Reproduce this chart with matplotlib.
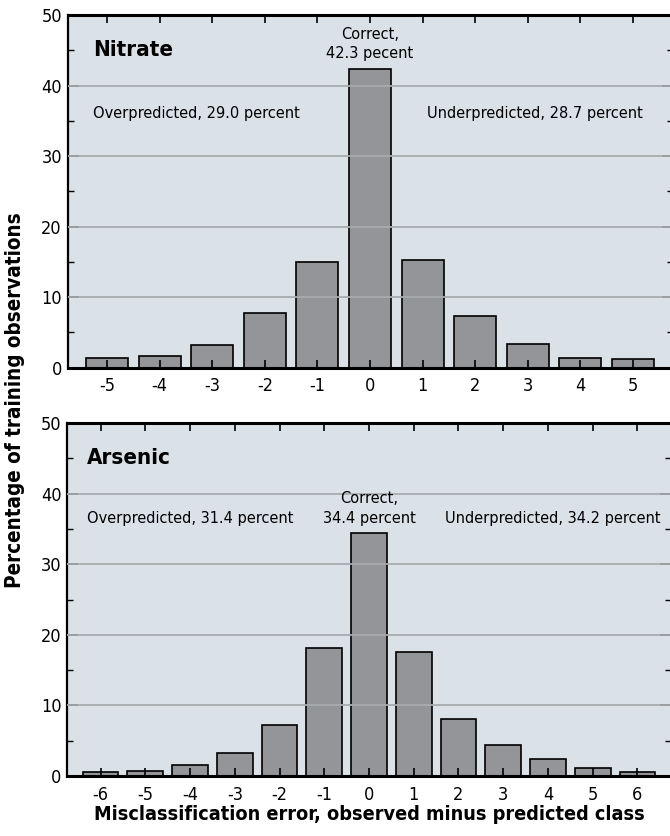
import matplotlib
matplotlib.use("Agg")
import matplotlib.pyplot as plt

# --- data ---
nitrate_err = [-5, -4, -3, -2, -1, 0, 1, 2, 3, 4, 5]
nitrate_pct = [1.4, 1.6, 3.2, 7.8, 15.0, 42.3, 15.2, 7.4, 3.4, 1.4, 1.3]
arsenic_err = [-6, -5, -4, -3, -2, -1, 0, 1, 2, 3, 4, 5, 6]
arsenic_pct = [0.6, 0.7, 1.5, 3.2, 7.2, 18.2, 34.4, 17.6, 8.1, 4.4, 2.4, 1.2, 0.5]

nitrate_txt = ("Nitrate", "Overpredicted, 29.0 percent", "Correct,", "42.3 pecent",
               "Underpredicted, 28.7 percent")
arsenic_txt = ("Arsenic", "Overpredicted, 31.4 percent", "Correct,", "34.4 percent",
               "Underpredicted, 34.2 percent")

plt.rcParams["font.family"] = ["DejaVu Sans"]
plt.rcParams["font.stretch"] = "condensed"
BG = "#dbe2e7"; BAR = "#939598"; GRID = "#a8acaf"

W, H = 670, 836
fig = plt.figure(figsize=(W/100, H/100), dpi=100)

def px_axes(x0, y_top, x1, y_bot):
    return fig.add_axes([x0/W, 1-y_bot/H, (x1-x0)/W, (y_bot-y_top)/H])

def panel(ax, err, pct, txt, xmax, left_x, over_y, corr_y, pct_y, under_x):
    ax.set_facecolor(BG)
    ax.bar(err, pct, width=0.8, color=BAR, edgecolor="black", linewidth=1.2, zorder=2)
    ax.set_xlim(-xmax, xmax); ax.set_ylim(0, 50)
    ax.set_xticks(err)
    ax.set_xticklabels([str(e) for e in err])
    ax.set_yticks([0, 10, 20, 30, 40, 50])
    ax.set_yticks([5, 15, 25, 35, 45], minor=True)
    for y in [10, 20, 30, 40]:
        ax.axhline(y, color=GRID, lw=1.3, zorder=3)
    ax.tick_params(axis="x", which="both", direction="in", top=True, bottom=True,
                   length=6, width=1.2, labelsize=13, pad=7)
    ax.tick_params(axis="y", which="major", direction="in", left=True, right=True,
                   length=8, width=1.2, labelsize=13, pad=4)
    ax.tick_params(axis="y", which="minor", direction="in", left=True, right=True,
                   length=4, width=1.0)
    ax.set_axisbelow(False)
    ax.spines["top"].set_linewidth(2.2)
    ax.spines["bottom"].set_linewidth(2.2)
    ax.spines["left"].set_linewidth(1.6)
    ax.spines["right"].set_visible(False)
    name, over, corr, corr_pct, under = txt
    ax.text(left_x, 45, name, fontsize=16, fontweight="bold", va="center", ha="left")
    ax.text(left_x, over_y, over, fontsize=11.7, va="center", ha="left")
    ax.text(0, corr_y, corr, fontsize=11.7, va="center", ha="center")
    ax.text(0, pct_y, corr_pct, fontsize=11.7, va="center", ha="center")
    ax.text(under_x, over_y, under, fontsize=11.7, va="center", ha="right")

ax1 = px_axes(67.5, 15, 672.5, 367.7)
panel(ax1, nitrate_err, nitrate_pct, nitrate_txt, 5.75, -5.27, 36.1, 47.2, 44.5, 5.19)
ax2 = px_axes(67.0, 423, 671.0, 776)
panel(ax2, arsenic_err, arsenic_pct, arsenic_txt, 6.75, -6.30, 36.5, 39.3, 36.5, 6.52)

fig.text(15/W, 1-400/H, "Percentage of training observations", rotation=90,
         fontsize=14.8, fontweight="bold", ha="center", va="center")
fig.text(369/W, 1-815/H, "Misclassification error, observed minus predicted class",
         fontsize=14.2, fontweight="bold", ha="center", va="center")

fig.savefig("out.png", dpi=100)
